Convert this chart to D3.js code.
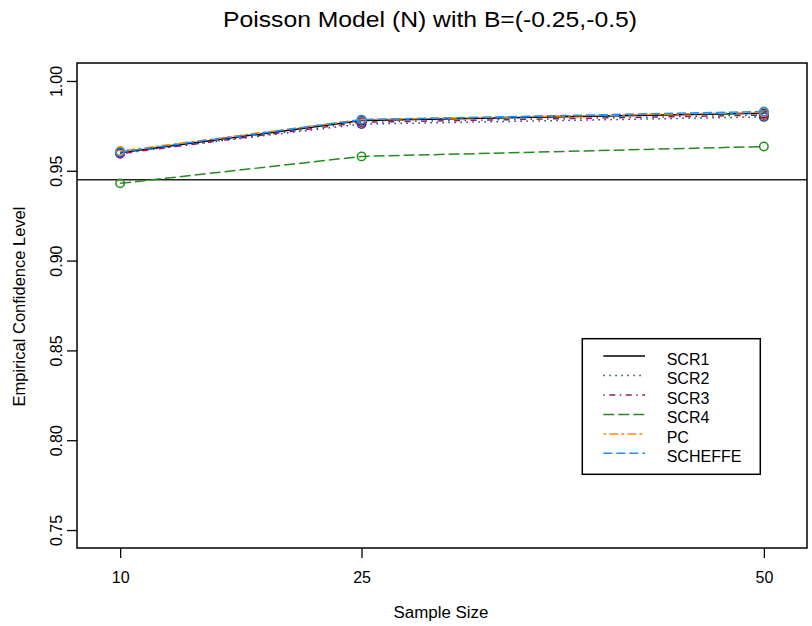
<!DOCTYPE html>
<html>
<head>
<meta charset="utf-8">
<script src="https://cdn.jsdelivr.net/npm/d3@7"></script>
<style>
  html, body { margin: 0; padding: 0; background: #fff; }
  svg text { font-family: "Liberation Sans", Arial, Helvetica, sans-serif; fill: #000; }
</style>
</head>
<body>
<svg id="chart" width="812" height="626"></svg>
<script>
// Sample sizes on the x axis
const sampleSizes = [10, 25, 50];
const xTicks = [10, 25, 50];
const yTicks = [0.75, 0.80, 0.85, 0.90, 0.95, 1.00];

// Empirical confidence level for each method
const scr1    = [0.960, 0.978, 0.982];
const scr2    = [0.960, 0.976, 0.980];
const scr3    = [0.9595, 0.977, 0.981];
const scr4    = [0.943, 0.958, 0.9635];
const pc      = [0.961, 0.9785, 0.9825];
const scheffe = [0.9605, 0.9785, 0.983];

const seriesNames = ["SCR1", "SCR2", "SCR3", "SCR4", "PC", "SCHEFFE"];
const seriesValues = [scr1, scr2, scr3, scr4, pc, scheffe];
const seriesColors = ["#000000", "#1f3f7f", "#8B1C62", "#228B22", "#FF8C00", "#1E90FF"];
const seriesDash = ["none", "1.5,4.5", "1.5,4.5,6,4.5", "11,4", "3,3,9,3", "9,4"];

// Nominal level reference line
const nominal = 0.945;

const svg = d3.select("#chart");
const plotLeft = 77, plotRight = 807, plotTop = 63, plotBottom = 548;

const x = d3.scaleLinear().domain([7.32, 52.68]).range([plotLeft, plotRight]);
const y = d3.scaleLinear().domain([0.74, 1.01]).range([plotBottom, plotTop]);

// Title
svg.append("text")
  .attr("x", 430).attr("y", 27)
  .attr("text-anchor", "middle")
  .attr("font-size", 22)
  .attr("textLength", 414).attr("lengthAdjust", "spacingAndGlyphs")
  .text("Poisson Model (N) with B=(-0.25,-0.5)");

// X axis
const xAxis = svg.append("g")
  .attr("transform", `translate(0,${plotBottom})`)
  .call(d3.axisBottom(x).tickValues(xTicks).tickSize(10).tickPadding(13.5).tickFormat(d3.format("d")));
xAxis.select(".domain").remove();
xAxis.selectAll("line").attr("stroke", "#000").attr("stroke-width", 1.3);
xAxis.selectAll("text").attr("font-size", 16).attr("font-family", "Liberation Sans, Arial, sans-serif");

// Y axis with rotated labels
const yAxis = svg.append("g")
  .attr("transform", `translate(${plotLeft},0)`)
  .call(d3.axisLeft(y).tickValues(yTicks).tickSize(10).tickFormat(d3.format(".2f")));
yAxis.select(".domain").remove();
yAxis.selectAll("line").attr("stroke", "#000").attr("stroke-width", 1.3);
yAxis.selectAll("text")
  .attr("x", 0).attr("dy", 0)
  .attr("transform", `translate(${61.7 - plotLeft},0) rotate(-90)`)
  .attr("text-anchor", "middle")
  .attr("font-size", 16)
  .attr("font-family", "Liberation Sans, Arial, sans-serif");

// Axis titles
svg.append("text")
  .attr("x", 441).attr("y", 618)
  .attr("text-anchor", "middle")
  .attr("font-size", 16)
  .attr("textLength", 95).attr("lengthAdjust", "spacingAndGlyphs")
  .text("Sample Size");

svg.append("text")
  .attr("transform", `translate(25,306.5) rotate(-90)`)
  .attr("text-anchor", "middle")
  .attr("font-size", 16.5)
  .text("Empirical Confidence Level");

// Nominal level line
svg.append("line")
  .attr("x1", plotLeft).attr("x2", plotRight)
  .attr("y1", y(nominal)).attr("y2", y(nominal))
  .attr("stroke", "#222").attr("stroke-width", 1.6);

// Series lines and circle markers
const line = d3.line().x((d, i) => x(sampleSizes[i])).y(d => y(d));
seriesValues.forEach((vals, k) => {
  svg.append("path")
    .datum(vals)
    .attr("d", line)
    .attr("fill", "none")
    .attr("stroke", seriesColors[k])
    .attr("stroke-width", 1.5)
    .attr("stroke-dasharray", seriesDash[k]);
  svg.selectAll(null)
    .data(vals)
    .enter().append("circle")
    .attr("cx", (d, i) => x(sampleSizes[i]))
    .attr("cy", d => y(d))
    .attr("r", 4.2)
    .attr("fill", "none")
    .attr("stroke", seriesColors[k])
    .attr("stroke-width", 1.5);
});

// Plot frame
svg.append("rect")
  .attr("x", plotLeft).attr("y", plotTop)
  .attr("width", plotRight - plotLeft).attr("height", plotBottom - plotTop)
  .attr("fill", "none").attr("stroke", "#000").attr("stroke-width", 1.5);

// Legend
const lg = svg.append("g");
lg.append("rect")
  .attr("x", 582.3).attr("y", 338.7)
  .attr("width", 760.3 - 582.3).attr("height", 474.3 - 338.7)
  .attr("fill", "#fff").attr("stroke", "#000").attr("stroke-width", 1.5);
seriesNames.forEach((name, k) => {
  const ly = 356 + k * 19.47;
  lg.append("line")
    .attr("x1", 603.3).attr("x2", 645)
    .attr("y1", ly).attr("y2", ly)
    .attr("stroke", seriesColors[k])
    .attr("stroke-width", 1.5)
    .attr("stroke-dasharray", seriesDash[k]);
  lg.append("text")
    .attr("x", 666.7).attr("y", ly + 9)
    .attr("font-size", 16)
    .text(name);
});
</script>
</body>
</html>
